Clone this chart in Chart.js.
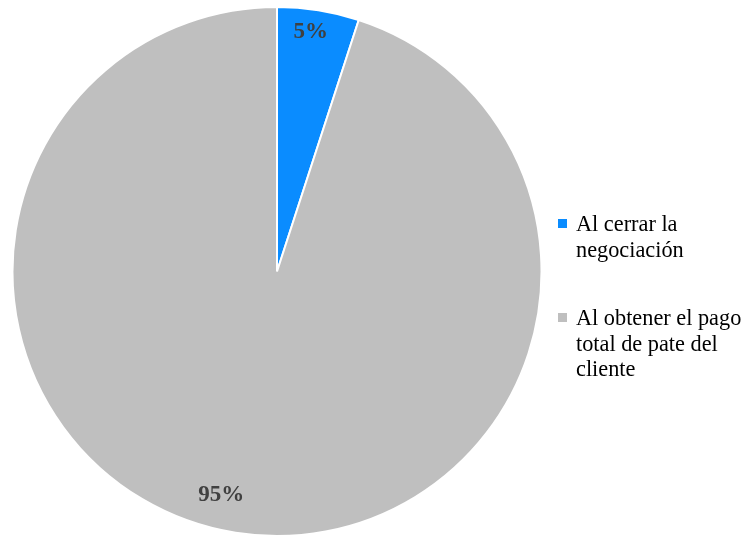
<!DOCTYPE html>
<html>
<head>
<meta charset="utf-8">
<script src="https://cdn.jsdelivr.net/npm/chart.js@4.4.0/dist/chart.umd.min.js"></script>
<style>
  html, body { margin: 0; padding: 0; background: #fff; }
  #wrap { position: relative; width: 746px; height: 537px; }
  #legend { position: absolute; left: 558px; top: 0; font-family: "Liberation Serif", "Times New Roman", serif; font-size: 22.3px; color: #000; line-height: 25.5px; }
  .item { position: absolute; left: 0; white-space: nowrap; }
  .box { position: absolute; left: 0; top: 8px; width: 9px; height: 9px; }
  .txt { position: absolute; left: 18px; top: 0; }
</style>
</head>
<body>
<div id="wrap">
  <canvas id="myChart" width="746" height="537"></canvas>
  <div id="legend"></div>
</div>
<script>
// momento del cobro de la comisión
const labels = [
    ['Al cerrar la', 'negociación'],
    ['Al obtener el pago', 'total de pate del', 'cliente']
];
const values = [5, 95];
const colors = ['#0a8cff', '#bfbfbf'];

// where each percentage sits: fraction of radius, and turn (deg) from the slice middle
const labelRadius = [0.915, 0.87];
const labelTurn = [-1, 5];
const legendTops = [211, 305];

const pctLabels = {
    id: 'pctLabels',
    afterDatasetsDraw(chart) {
        const ctx = chart.ctx;
        const meta = chart.getDatasetMeta(0);
        const total = values.reduce((a, b) => a + b, 0);
        ctx.save();
        ctx.font = 'bold 23px "Liberation Serif", "Times New Roman", serif';
        ctx.fillStyle = '#404040';
        ctx.textAlign = 'center';
        ctx.textBaseline = 'middle';
        meta.data.forEach((arc, i) => {
            const mid = (arc.startAngle + arc.endAngle) / 2 + labelTurn[i] * Math.PI / 180;
            const r = arc.outerRadius * labelRadius[i];
            const x = arc.x + Math.cos(mid) * r;
            const y = arc.y + Math.sin(mid) * r;
            ctx.fillText(Math.round(values[i] / total * 100) + '%', x, y);
        });
        ctx.restore();
    }
};

const ctx = document.getElementById('myChart').getContext('2d');
let myChart = new Chart(ctx, {
    type: 'pie',
    data: {
        labels: labels,
        datasets: [{
            data: values,
            backgroundColor: colors,
            borderColor: '#ffffff',
            borderWidth: 2
        }]
    },
    options: {
        responsive: false,
        animation: false,
        layout: { padding: { left: 11, right: 203, top: 6, bottom: 0 } },
        plugins: {
            legend: { display: false },
            tooltip: { enabled: false }
        }
    },
    plugins: [pctLabels]
});

// legend on the right, one block per slice
const legend = document.getElementById('legend');
labels.forEach((lines, i) => {
    const item = document.createElement('div');
    item.className = 'item';
    item.style.top = legendTops[i] + 'px';
    const box = document.createElement('div');
    box.className = 'box';
    box.style.background = colors[i];
    const txt = document.createElement('div');
    txt.className = 'txt';
    txt.innerHTML = lines.join('<br>');
    item.appendChild(box);
    item.appendChild(txt);
    legend.appendChild(item);
});
</script>
</body>
</html>
